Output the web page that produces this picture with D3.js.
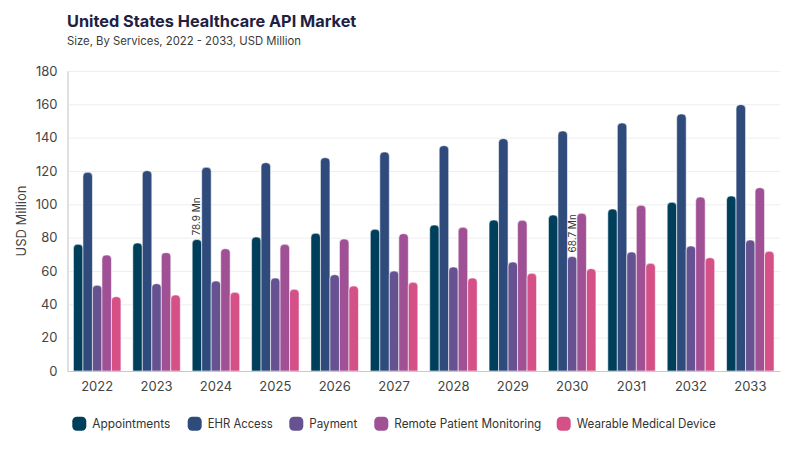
<!DOCTYPE html>
<html>
<head>
<meta charset="utf-8">
<script src="https://cdn.jsdelivr.net/npm/d3@7"></script>
<style>
  body { margin: 0; background: #fff; }
  text { font-family: Inter, "Open Sans", sans-serif; }
</style>
</head>
<body>
<div id="ChartContainer"></div>
<script>
var years = ["2022", "2023", "2024", "2025", "2026", "2027", "2028", "2029", "2030", "2031", "2032", "2033"]
var seriesNames = ["Appointments", "EHR Access", "Payment", "Remote Patient Monitoring", "Wearable Medical Device"]
var appointments = [76.0, 76.8, 78.9, 80.4, 82.6, 85.0, 87.6, 90.6, 93.6, 97.2, 101.2, 105.0]
var ehrAccess = [119.2, 120.2, 122.2, 125.0, 128.0, 131.4, 135.2, 139.4, 144.0, 148.8, 154.2, 159.8]
var payment = [51.4, 52.4, 54.0, 55.8, 57.8, 60.0, 62.4, 65.4, 68.7, 71.4, 75.0, 78.6]
var remoteMonitoring = [69.6, 71.0, 73.4, 76.0, 79.2, 82.4, 86.2, 90.4, 94.6, 99.4, 104.4, 110.0]
var wearable = [44.6, 45.6, 47.2, 49.0, 51.0, 53.2, 55.8, 58.6, 61.4, 64.6, 68.0, 71.8]
var yTicks = [0, 20, 40, 60, 80, 100, 120, 140, 160, 180]
var colors = ["#003f5c", "#2f4b7c", "#665191", "#a05195", "#d45087"]
// callouts: [series index, year index]
var callouts = [[0, 2], [2, 8]]

var seriesValues = [appointments, ehrAccess, payment, remoteMonitoring, wearable]

var fullWidth = 800
var fullHeight = 450
var margin = { top: 71, right: 20, bottom: 79, left: 67.5 }
var width = fullWidth - margin.left - margin.right
var height = fullHeight - margin.top - margin.bottom

var svg = d3.select("#ChartContainer").append("svg")
  .attr("width", fullWidth)
  .attr("height", fullHeight)

// Title
svg.append("text")
  .attr("x", 67)
  .attr("y", 27)
  .attr("font-size", "16.3px")
  .attr("font-weight", 700)
  .attr("fill", "#1e2140")
  .text("United States Healthcare API Market")

svg.append("text")
  .attr("x", 67)
  .attr("y", 45)
  .attr("font-size", "11.3px")
  .attr("fill", "#3a3a3a")
  .text("Size, By Services, 2022 - 2033, USD Million")

var x0 = d3.scaleBand()
  .domain(years)
  .range([0, width])
  .paddingInner(0.2)
  .paddingOuter(0.1)
var x1 = d3.scaleBand()
  .domain(d3.range(seriesNames.length))
  .range([0, x0.bandwidth()])
var y = d3.scaleLinear()
  .domain([0, 180])
  .range([height, 0])

var g = svg.append("g")
  .attr("transform", `translate(${margin.left},${margin.top})`)

// gridlines
g.append("g")
  .call(d3.axisLeft(y).tickValues(yTicks).tickSize(-width).tickFormat(""))
  .call(s => s.select(".domain").remove())
  .call(s => s.selectAll("line").attr("stroke", "#eeeeee"))

// y axis
var yAxis = g.append("g")
  .call(d3.axisLeft(y).tickValues(yTicks).tickSize(0).tickPadding(10))
yAxis.select(".domain").attr("stroke", "#e0e0e0").attr("stroke-width", 2)
yAxis.selectAll("text")
  .attr("font-size", "13px")
  .attr("fill", "#444")
  .style("font-family", "Inter, sans-serif")

// y axis label
g.append("text")
  .attr("transform", "rotate(-90)")
  .attr("x", -height / 2)
  .attr("y", -42)
  .attr("text-anchor", "middle")
  .attr("font-size", "13px")
  .attr("fill", "#444")
  .text("USD Million")

// bars
function barPath(x, yTop, w, h, r) {
  r = Math.min(r, w / 2, h)
  return `M${x},${yTop + h}V${yTop + r}Q${x},${yTop} ${x + r},${yTop}` +
    `H${x + w - r}Q${x + w},${yTop} ${x + w},${yTop + r}V${yTop + h}Z`
}

var groups = g.selectAll(".group")
  .data(years)
  .enter().append("g")
  .attr("transform", d => `translate(${x0(d)},0)`)

groups.selectAll("path")
  .data((d, i) => seriesValues.map((vals, s) => ({ s: s, v: vals[i] })))
  .enter().append("path")
  .attr("d", d => barPath(x1(d.s), y(d.v), x1.bandwidth(), height - y(d.v), 4))
  .attr("fill", d => colors[d.s])
  .attr("stroke", "#ffffff")
  .attr("stroke-opacity", 0.7)
  .attr("stroke-width", 0.8)

// x axis
var xAxis = g.append("g")
  .attr("transform", `translate(0,${height})`)
  .call(d3.axisBottom(x0).tickSize(0).tickPadding(11))
xAxis.select(".domain").attr("stroke", "#c8c8c8")
xAxis.selectAll("text")
  .attr("font-size", "13px")
  .attr("fill", "#444")
  .style("font-family", "Inter, sans-serif")

// callouts
callouts.forEach(c => {
  var s = c[0], i = c[1]
  var v = seriesValues[s][i]
  var cx = x0(years[i]) + x1(s) + x1.bandwidth() / 2
  g.append("text")
    .attr("transform", `translate(${cx + 3.5},${y(v) - 4}) rotate(-90)`)
    .attr("font-size", "10px")
    .attr("fill", "#333")
    .text(`${v} Mn`)
})

// legend
var legendX = [72.3, 187.7, 289.3, 374.3, 556.7]
var legendW = [78, 65, 48, 147, 139]
var legend = svg.append("g")
  .attr("transform", "translate(0,423.7)")
seriesNames.forEach((name, i) => {
  legend.append("rect")
    .attr("x", legendX[i])
    .attr("y", -7)
    .attr("width", 14)
    .attr("height", 14)
    .attr("rx", 4.5)
    .attr("fill", colors[i])
  legend.append("text")
    .attr("x", legendX[i] + 20)
    .attr("y", 0)
    .attr("dy", "0.35em")
    .attr("font-size", "12.5px")
    .attr("fill", "#333")
    .attr("textLength", legendW[i])
    .attr("lengthAdjust", "spacingAndGlyphs")
    .text(name)
})
</script>
</body>
</html>
